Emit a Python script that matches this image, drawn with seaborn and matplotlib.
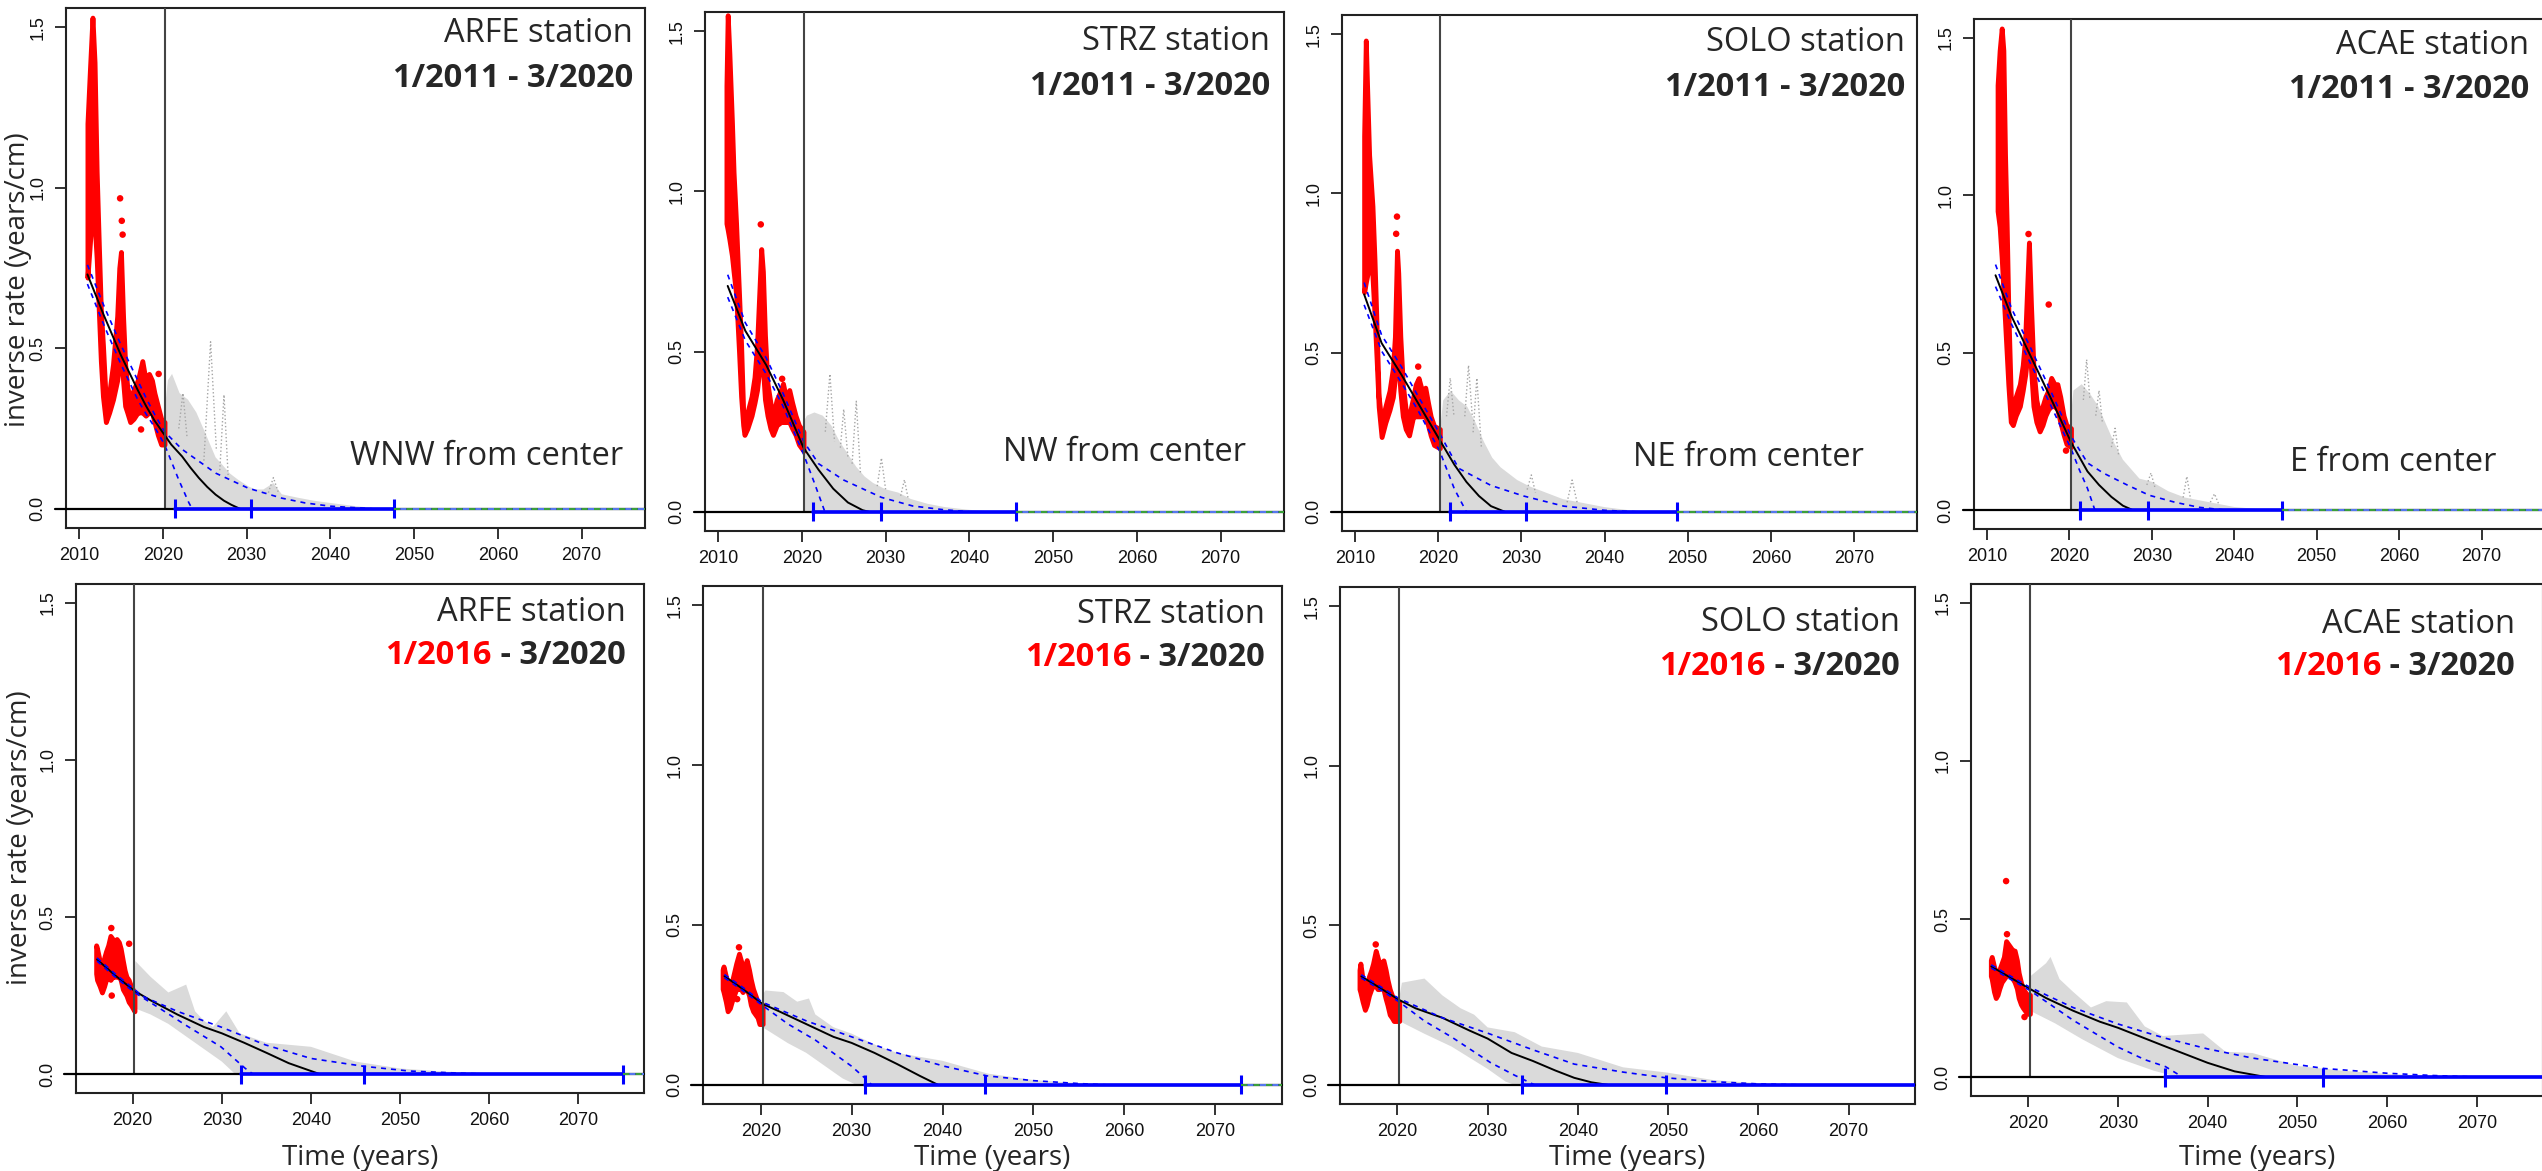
import matplotlib
matplotlib.use("Agg")
import matplotlib.pyplot as plt
import seaborn as sns

# ---------------- values ----------------
stations = ["ARFE", "STRZ", "SOLO", "ACAE"]
directions = ["WNW", "NW", "NE", "E"]
forecast_start = 2020.2  # 3/2020

top_xticks = [2010, 2020, 2030, 2040, 2050, 2060, 2070]
bot_xticks = [2020, 2030, 2040, 2050, 2060, 2070]
yticks = [0.0, 0.5, 1.0, 1.5]
ytick_labels = ["0.0", "0.5", "1.0", "1.5"]

# ---- top row: fits on 1/2011 - 3/2020 ----
# ARFE
arfe_a_red_t = [2011.0, 2011.3, 2011.6, 2011.85, 2012.1, 2012.35, 2012.6, 2012.85, 2013.2, 2013.6,
                2014.05, 2014.55, 2014.8, 2015.0, 2015.25, 2015.5, 2015.75, 2016.1, 2016.5, 2017.0,
                2017.2, 2017.55, 2017.95, 2018.35, 2018.7, 2019.0, 2019.4, 2019.8, 2020.2]
arfe_a_red_lo = [0.72, 0.83, 0.94, 0.89, 0.78, 0.62, 0.46, 0.35, 0.27, 0.30,
                 0.34, 0.40, 0.45, 0.50, 0.40, 0.32, 0.30, 0.27, 0.28, 0.30,
                 0.30, 0.30, 0.29, 0.30, 0.30, 0.27, 0.23, 0.20, 0.20]
arfe_a_red_hi = [1.20, 1.37, 1.53, 1.39, 1.05, 0.83, 0.62, 0.51, 0.33, 0.36,
                 0.45, 0.60, 0.75, 0.80, 0.60, 0.45, 0.38, 0.34, 0.37, 0.40,
                 0.42, 0.46, 0.40, 0.42, 0.40, 0.36, 0.32, 0.28, 0.27]
arfe_a_out_t = [2014.9, 2015.1, 2015.2, 2017.4, 2019.5]
arfe_a_out_v = [0.967, 0.897, 0.854, 0.247, 0.42]
arfe_a_blk_t = [2011.0, 2013.0, 2015.0, 2017.0, 2018.0, 2019.0, 2020.2, 2021.0, 2022.3, 2023.3,
                2024.3, 2025.3, 2026.3, 2027.3, 2028.2, 2029.2]
arfe_a_blk_v = [0.73, 0.60, 0.478, 0.37, 0.32, 0.275, 0.23, 0.20, 0.163, 0.128,
                0.096, 0.068, 0.044, 0.025, 0.012, 0.0]
arfe_a_bhi_t = [2011.0, 2013.0, 2015.0, 2017.0, 2018.0, 2019.0, 2020.2, 2022.3, 2026.3, 2030.2,
                2034.2, 2037.0, 2040.0, 2045.0]
arfe_a_bhi_v = [0.76, 0.63, 0.51, 0.40, 0.345, 0.295, 0.24, 0.185, 0.111, 0.064,
                0.033, 0.018, 0.008, 0.0]
arfe_a_blo_t = [2011.0, 2013.0, 2015.0, 2017.0, 2018.0, 2019.0, 2020.2, 2020.7, 2021.9, 2023.1, 2023.5]
arfe_a_blo_v = [0.70, 0.57, 0.45, 0.34, 0.295, 0.255, 0.20, 0.168, 0.09, 0.019, 0.0]
arfe_a_gh_t = [2020.2, 2020.6, 2021.1, 2022.0, 2023.0, 2024.0, 2025.0, 2026.3, 2027.0, 2028.0,
               2029.0, 2030.2, 2031.0, 2032.0, 2033.2, 2034.2, 2036.0, 2038.0, 2040.0, 2043.0, 2046.0]
arfe_a_gh_v = [0.30, 0.40, 0.42, 0.36, 0.34, 0.30, 0.24, 0.16, 0.14, 0.11,
               0.09, 0.07, 0.06, 0.06, 0.08, 0.045, 0.035, 0.025, 0.018, 0.008, 0.0]
arfe_a_gl_t = [2020.2, 2046.0]
arfe_a_gl_v = [0.0, 0.0]
arfe_a_sp_t = [[2024.9, 2025.7, 2026.4], [2026.8, 2027.3, 2027.8], [2021.9, 2022.4, 2022.9], [2032.6, 2033.2, 2033.8]]
arfe_a_sp_v = [[0.15, 0.52, 0.18], [0.12, 0.355, 0.10], [0.25, 0.36, 0.22], [0.05, 0.097, 0.05]]
arfe_a_iv = [2021.5, 2030.5, 2047.6]

# STRZ
strz_a_red_t = [2011.0, 2011.15, 2011.35, 2011.65, 2011.85, 2012.15, 2012.5, 2012.75, 2013.0, 2013.15,
                2013.5, 2014.0, 2014.35, 2014.65, 2014.95, 2015.15, 2015.35, 2015.6, 2015.9, 2016.25,
                2016.55, 2017.0, 2017.5, 2017.75, 2018.15, 2018.5, 2018.85, 2019.25, 2019.65, 2020.2]
strz_a_red_lo = [0.90, 0.88, 0.85, 0.80, 0.75, 0.68, 0.50, 0.36, 0.27, 0.24,
                 0.26, 0.30, 0.34, 0.38, 0.45, 0.50, 0.45, 0.35, 0.30, 0.26,
                 0.24, 0.27, 0.28, 0.28, 0.28, 0.28, 0.26, 0.24, 0.21, 0.19]
strz_a_red_hi = [1.33, 1.55, 1.43, 1.22, 1.06, 0.90, 0.68, 0.52, 0.31, 0.28,
                 0.31, 0.36, 0.42, 0.52, 0.70, 0.82, 0.75, 0.55, 0.40, 0.34,
                 0.30, 0.35, 0.38, 0.40, 0.35, 0.38, 0.34, 0.30, 0.27, 0.25]
strz_a_out_t = [2015.1, 2017.65]
strz_a_out_v = [0.897, 0.415]
strz_a_blk_t = [2011.15, 2013.25, 2015.75, 2017.75, 2020.2, 2022.0, 2023.75, 2025.5, 2027.25, 2028.0]
strz_a_blk_v = [0.705, 0.565, 0.458, 0.35, 0.20, 0.131, 0.072, 0.029, 0.005, 0.0]
strz_a_bhi_t = [2011.15, 2013.25, 2015.75, 2017.75, 2020.2, 2022.0, 2025.0, 2029.5, 2033.25, 2036.75, 2040.0]
strz_a_bhi_v = [0.74, 0.59, 0.48, 0.37, 0.22, 0.15, 0.099, 0.045, 0.018, 0.007, 0.0]
strz_a_blo_t = [2011.15, 2013.25, 2015.75, 2017.75, 2020.2, 2021.5, 2022.75]
strz_a_blo_v = [0.67, 0.535, 0.43, 0.33, 0.18, 0.09, 0.0]
strz_a_gh_t = [2020.2, 2020.6, 2021.5, 2022.5, 2023.5, 2024.5, 2025.5, 2026.5, 2027.5, 2028.5,
               2030.0, 2031.5, 2033.0, 2035.0, 2037.0, 2040.0, 2043.0]
strz_a_gh_v = [0.28, 0.30, 0.31, 0.30, 0.27, 0.22, 0.18, 0.14, 0.11, 0.09,
               0.07, 0.06, 0.04, 0.025, 0.015, 0.006, 0.0]
strz_a_gl_t = [2020.2, 2043.0]
strz_a_gl_v = [0.0, 0.0]
strz_a_sp_t = [[2022.8, 2023.35, 2023.9], [2024.6, 2025.0, 2025.5], [2026.0, 2026.5, 2027.0],
               [2029.0, 2029.5, 2030.0], [2031.8, 2032.25, 2032.7]]
strz_a_sp_v = [[0.25, 0.43, 0.22], [0.20, 0.32, 0.17], [0.15, 0.345, 0.12], [0.08, 0.168, 0.07], [0.05, 0.10, 0.04]]
strz_a_iv = [2021.3, 2029.4, 2045.6]

# SOLO
solo_a_red_t = [2011.1, 2011.3, 2011.45, 2011.7, 2012.1, 2012.35, 2012.6, 2012.85, 2013.2, 2013.65,
                2014.15, 2014.55, 2014.8, 2015.05, 2015.2, 2015.45, 2015.75, 2016.1, 2016.5, 2017.0,
                2017.3, 2017.65, 2018.05, 2018.45, 2018.8, 2019.1, 2019.5, 2020.2]
solo_a_red_lo = [0.69, 0.72, 0.74, 0.80, 0.74, 0.62, 0.48, 0.33, 0.235, 0.28,
                 0.32, 0.36, 0.42, 0.50, 0.48, 0.38, 0.30, 0.26, 0.24, 0.30,
                 0.30, 0.30, 0.30, 0.30, 0.27, 0.24, 0.21, 0.20]
solo_a_red_hi = [1.18, 1.48, 1.34, 1.12, 0.96, 0.79, 0.58, 0.36, 0.28, 0.33,
                 0.38, 0.45, 0.55, 0.82, 0.75, 0.55, 0.40, 0.32, 0.30, 0.36,
                 0.40, 0.42, 0.38, 0.39, 0.34, 0.30, 0.27, 0.26]
solo_a_out_t = [2015.05, 2014.95, 2017.6]
solo_a_out_v = [0.927, 0.873, 0.456]
solo_a_blk_t = [2011.1, 2013.2, 2015.6, 2017.55, 2020.2, 2021.95, 2023.4, 2024.9, 2026.35, 2028.05]
solo_a_blk_v = [0.683, 0.53, 0.43, 0.343, 0.225, 0.148, 0.094, 0.05, 0.018, 0.0]
solo_a_bhi_t = [2011.1, 2013.2, 2015.6, 2017.55, 2020.2, 2022.45, 2026.35, 2030.25, 2035.1, 2040.0, 2044.0]
solo_a_bhi_v = [0.72, 0.555, 0.455, 0.365, 0.245, 0.137, 0.083, 0.05, 0.018, 0.005, 0.0]
solo_a_blo_t = [2011.1, 2013.2, 2015.6, 2017.55, 2020.2, 2021.95, 2023.4]
solo_a_blo_v = [0.65, 0.505, 0.405, 0.32, 0.19, 0.072, 0.0]
solo_a_gh_t = [2020.2, 2020.6, 2021.5, 2022.5, 2023.5, 2024.5, 2025.5, 2026.5, 2027.5, 2028.5,
               2029.5, 2031.0, 2033.0, 2035.0, 2037.0, 2040.0, 2043.0, 2046.0]
solo_a_gh_v = [0.25, 0.35, 0.38, 0.35, 0.33, 0.28, 0.22, 0.17, 0.14, 0.12,
               0.10, 0.08, 0.06, 0.04, 0.03, 0.015, 0.005, 0.0]
solo_a_gl_t = [2020.2, 2046.0]
solo_a_gl_v = [0.0, 0.0]
solo_a_sp_t = [[2021.0, 2021.45, 2021.9], [2023.2, 2023.65, 2024.1], [2024.2, 2024.65, 2025.2],
               [2030.7, 2031.2, 2031.7], [2035.5, 2036.1, 2036.7]]
solo_a_sp_v = [[0.30, 0.42, 0.30], [0.30, 0.46, 0.30], [0.25, 0.42, 0.20], [0.07, 0.116, 0.06], [0.03, 0.10, 0.03]]
solo_a_iv = [2021.4, 2030.6, 2048.7]

# ACAE
acae_a_red_t = [2011.3, 2011.55, 2011.8, 2012.0, 2012.2, 2012.4, 2012.6, 2012.9, 2013.15, 2013.5,
                2014.0, 2014.35, 2014.65, 2014.95, 2015.1, 2015.35, 2015.65, 2016.0, 2016.4, 2016.75,
                2017.1, 2017.45, 2017.8, 2018.2, 2018.55, 2018.9, 2019.3, 2019.65, 2020.2]
acae_a_red_lo = [0.95, 0.90, 0.80, 0.70, 0.60, 0.50, 0.40, 0.28, 0.27, 0.30,
                 0.33, 0.38, 0.43, 0.50, 0.55, 0.45, 0.33, 0.28, 0.25, 0.27,
                 0.30, 0.32, 0.33, 0.33, 0.32, 0.28, 0.24, 0.21, 0.20]
acae_a_red_hi = [1.35, 1.46, 1.53, 1.46, 1.13, 0.91, 0.64, 0.36, 0.31, 0.36,
                 0.40, 0.46, 0.55, 0.75, 0.85, 0.65, 0.45, 0.35, 0.30, 0.33,
                 0.36, 0.38, 0.42, 0.40, 0.40, 0.36, 0.30, 0.27, 0.26]
acae_a_out_t = [2015.05, 2017.5, 2019.6]
acae_a_out_v = [0.877, 0.653, 0.189]
acae_a_blk_t = [2011.05, 2013.0, 2015.4, 2017.8, 2020.2, 2022.2, 2023.6, 2025.1, 2026.5, 2027.7]
acae_a_blk_v = [0.746, 0.615, 0.484, 0.353, 0.216, 0.123, 0.08, 0.042, 0.014, 0.0]
acae_a_bhi_t = [2011.05, 2013.0, 2015.4, 2017.8, 2020.2, 2022.2, 2024.1, 2027.0, 2029.7, 2032.8, 2035.7, 2039.0]
acae_a_bhi_v = [0.78, 0.64, 0.51, 0.375, 0.235, 0.15, 0.118, 0.08, 0.047, 0.025, 0.009, 0.0]
acae_a_blo_t = [2011.05, 2013.0, 2015.4, 2017.8, 2020.2, 2021.2, 2022.2, 2023.1]
acae_a_blo_v = [0.71, 0.59, 0.46, 0.33, 0.195, 0.129, 0.069, 0.0]
acae_a_gh_t = [2020.2, 2020.5, 2021.5, 2022.5, 2023.5, 2024.5, 2025.5, 2026.5, 2027.5, 2028.5,
               2030.0, 2032.0, 2034.0, 2036.0, 2038.0, 2040.0, 2043.0, 2045.0]
acae_a_gh_v = [0.30, 0.38, 0.40, 0.37, 0.33, 0.27, 0.21, 0.16, 0.13, 0.10,
               0.09, 0.06, 0.04, 0.03, 0.02, 0.01, 0.003, 0.0]
acae_a_gl_t = [2020.2, 2045.0]
acae_a_gl_v = [0.0, 0.0]
acae_a_sp_t = [[2021.7, 2022.1, 2022.5], [2023.2, 2023.6, 2024.0], [2025.1, 2025.55, 2026.0],
               [2029.4, 2029.9, 2030.4], [2033.8, 2034.25, 2034.7], [2037.1, 2037.6, 2038.1]]
acae_a_sp_v = [[0.35, 0.478, 0.35], [0.30, 0.38, 0.28], [0.20, 0.26, 0.17],
               [0.08, 0.118, 0.07], [0.04, 0.107, 0.035], [0.025, 0.052, 0.02]]
acae_a_iv = [2021.3, 2029.6, 2045.8]

# ---- bottom row: fits on 1/2016 - 3/2020 ----
# ARFE
arfe_b_red_t = [2015.9, 2016.0, 2016.3, 2016.55, 2016.8, 2017.0, 2017.25, 2017.5, 2017.75, 2018.0,
                2018.2, 2018.45, 2018.65, 2018.9, 2019.1, 2019.3, 2019.55, 2019.8, 2020.0, 2020.2]
arfe_b_red_lo = [0.32, 0.30, 0.28, 0.26, 0.28, 0.30, 0.31, 0.30, 0.31, 0.31,
                 0.31, 0.31, 0.30, 0.27, 0.26, 0.25, 0.23, 0.22, 0.21, 0.20]
arfe_b_red_hi = [0.41, 0.40, 0.36, 0.34, 0.37, 0.39, 0.41, 0.44, 0.43, 0.42,
                 0.43, 0.42, 0.40, 0.36, 0.33, 0.31, 0.30, 0.28, 0.27, 0.26]
arfe_b_out_t = [2017.6, 2017.65, 2019.6]
arfe_b_out_v = [0.465, 0.25, 0.415]
arfe_b_blk_t = [2016.0, 2018.0, 2020.2, 2022.0, 2025.0, 2028.0, 2030.0, 2032.5, 2035.0, 2037.5, 2040.0, 2041.0]
arfe_b_blk_v = [0.365, 0.315, 0.265, 0.235, 0.19, 0.15, 0.13, 0.10, 0.068, 0.035, 0.01, 0.0]
arfe_b_bhi_t = [2016.0, 2018.0, 2020.2, 2021.1, 2025.0, 2030.0, 2034.9, 2040.0, 2045.9, 2051.0, 2056.0, 2060.0]
arfe_b_bhi_v = [0.37, 0.32, 0.27, 0.248, 0.20, 0.149, 0.093, 0.05, 0.025, 0.01, 0.004, 0.0]
arfe_b_blo_t = [2016.0, 2018.0, 2020.2, 2023.0, 2026.0, 2029.9, 2032.6, 2033.5]
arfe_b_blo_v = [0.36, 0.31, 0.26, 0.21, 0.155, 0.087, 0.019, 0.0]
arfe_b_gh_t = [2020.2, 2020.3, 2022.0, 2024.0, 2026.0, 2027.0, 2028.0, 2029.0, 2030.5, 2032.0,
               2035.0, 2040.0, 2045.0, 2050.0, 2055.0, 2060.0, 2063.0]
arfe_b_gh_v = [0.30, 0.36, 0.31, 0.26, 0.285, 0.20, 0.17, 0.15, 0.20, 0.13,
               0.10, 0.087, 0.04, 0.018, 0.008, 0.003, 0.0]
arfe_b_gl_t = [2020.2, 2022.0, 2024.0, 2026.0, 2028.0, 2030.0, 2031.5]
arfe_b_gl_v = [0.21, 0.19, 0.16, 0.12, 0.08, 0.04, 0.0]
arfe_b_iv = [2032.1, 2045.9, 2075.0]

# STRZ
strz_b_red_t = [2015.8, 2015.9, 2016.15, 2016.35, 2016.6, 2016.8, 2017.05, 2017.3, 2017.6, 2017.8,
                2018.0, 2018.25, 2018.45, 2018.7, 2018.9, 2019.15, 2019.4, 2019.65, 2019.85, 2020.2]
strz_b_red_lo = [0.30, 0.29, 0.26, 0.23, 0.24, 0.26, 0.28, 0.30, 0.30, 0.30,
                 0.29, 0.30, 0.30, 0.28, 0.25, 0.23, 0.22, 0.21, 0.19, 0.19]
strz_b_red_hi = [0.36, 0.37, 0.34, 0.32, 0.31, 0.32, 0.35, 0.38, 0.41, 0.39,
                 0.37, 0.37, 0.39, 0.36, 0.33, 0.30, 0.28, 0.26, 0.25, 0.25]
strz_b_out_t = [2017.6, 2017.4]
strz_b_out_v = [0.43, 0.268]
strz_b_blk_t = [2016.0, 2018.0, 2020.2, 2022.0, 2025.0, 2028.0, 2030.0, 2032.5, 2035.0, 2037.5, 2039.5]
strz_b_blk_v = [0.34, 0.30, 0.253, 0.23, 0.19, 0.15, 0.131, 0.10, 0.065, 0.028, 0.0]
strz_b_bhi_t = [2016.0, 2018.0, 2020.2, 2025.0, 2030.0, 2035.0, 2040.2, 2044.9, 2050.0, 2055.0, 2058.0]
strz_b_bhi_v = [0.345, 0.305, 0.258, 0.20, 0.15, 0.10, 0.058, 0.028, 0.013, 0.004, 0.0]
strz_b_blo_t = [2016.0, 2018.0, 2020.2, 2023.0, 2026.0, 2030.0, 2031.5, 2032.2]
strz_b_blo_v = [0.335, 0.295, 0.248, 0.19, 0.14, 0.058, 0.02, 0.0]
strz_b_gh_t = [2020.2, 2020.5, 2022.5, 2024.0, 2025.3, 2026.0, 2028.0, 2030.0, 2033.0, 2035.0,
               2040.0, 2045.0, 2050.0, 2055.0, 2060.0]
strz_b_gh_v = [0.28, 0.295, 0.29, 0.26, 0.27, 0.22, 0.18, 0.16, 0.12, 0.10,
               0.075, 0.035, 0.015, 0.005, 0.0]
strz_b_gl_t = [2020.2, 2023.0, 2025.0, 2027.0, 2029.0, 2030.5]
strz_b_gl_v = [0.18, 0.13, 0.10, 0.06, 0.02, 0.0]
strz_b_iv = [2031.5, 2044.7, 2072.9]

# SOLO
solo_b_red_t = [2015.8, 2015.9, 2016.15, 2016.4, 2016.6, 2016.85, 2017.1, 2017.3, 2017.6, 2017.8,
                2018.0, 2018.25, 2018.45, 2018.7, 2018.9, 2019.15, 2019.4, 2019.6, 2019.85, 2020.2]
solo_b_red_lo = [0.30, 0.29, 0.26, 0.235, 0.25, 0.28, 0.30, 0.31, 0.31, 0.30,
                 0.30, 0.31, 0.30, 0.27, 0.25, 0.22, 0.21, 0.20, 0.20, 0.20]
solo_b_red_hi = [0.36, 0.38, 0.33, 0.30, 0.31, 0.34, 0.36, 0.38, 0.42, 0.40,
                 0.38, 0.38, 0.39, 0.36, 0.33, 0.30, 0.28, 0.27, 0.26, 0.26]
solo_b_out_t = [2017.6]
solo_b_out_v = [0.44]
solo_b_blk_t = [2016.0, 2018.0, 2020.2, 2022.0, 2025.0, 2028.0, 2030.0, 2032.65, 2035.0, 2037.5,
                2039.6, 2041.5, 2043.3]
solo_b_blk_v = [0.34, 0.305, 0.266, 0.24, 0.21, 0.17, 0.145, 0.10, 0.075, 0.045,
                0.022, 0.008, 0.0]
solo_b_bhi_t = [2016.0, 2018.0, 2020.2, 2025.0, 2030.0, 2035.0, 2039.6, 2045.0, 2049.8, 2055.0, 2060.0, 2065.0]
solo_b_bhi_v = [0.345, 0.31, 0.27, 0.21, 0.162, 0.11, 0.065, 0.04, 0.022, 0.01, 0.003, 0.0]
solo_b_blo_t = [2016.0, 2018.0, 2020.2, 2023.0, 2026.0, 2030.3, 2033.0, 2035.2]
solo_b_blo_v = [0.335, 0.30, 0.26, 0.20, 0.15, 0.07, 0.03, 0.0]
solo_b_gh_t = [2020.2, 2020.5, 2023.0, 2025.0, 2027.0, 2028.5, 2030.0, 2033.0, 2036.0, 2040.0,
               2045.0, 2050.0, 2055.0, 2060.0, 2065.0]
solo_b_gh_v = [0.27, 0.32, 0.333, 0.28, 0.24, 0.22, 0.18, 0.165, 0.12, 0.10,
               0.055, 0.038, 0.015, 0.005, 0.0]
solo_b_gl_t = [2020.2, 2023.0, 2026.0, 2028.0, 2030.0, 2032.0, 2033.0]
solo_b_gl_v = [0.20, 0.16, 0.12, 0.085, 0.05, 0.01, 0.0]
solo_b_iv = [2033.8, 2049.8, 2082.0]

# ACAE
acae_b_red_t = [2015.85, 2015.95, 2016.2, 2016.4, 2016.6, 2016.8, 2017.05, 2017.3, 2017.55, 2017.8,
                2018.05, 2018.3, 2018.5, 2018.75, 2018.95, 2019.2, 2019.4, 2019.65, 2019.9, 2020.2]
acae_b_red_lo = [0.32, 0.31, 0.27, 0.25, 0.26, 0.28, 0.30, 0.31, 0.32, 0.33,
                 0.32, 0.31, 0.30, 0.28, 0.25, 0.23, 0.22, 0.21, 0.20, 0.20]
acae_b_red_hi = [0.37, 0.38, 0.35, 0.33, 0.33, 0.34, 0.36, 0.38, 0.43, 0.42,
                 0.41, 0.40, 0.40, 0.37, 0.33, 0.30, 0.28, 0.27, 0.26, 0.26]
acae_b_out_t = [2017.55, 2017.65, 2019.6]
acae_b_out_v = [0.62, 0.452, 0.19]
acae_b_blk_t = [2015.9, 2018.0, 2020.2, 2022.0, 2025.0, 2028.0, 2030.0, 2035.0, 2040.0, 2043.0, 2046.5]
acae_b_blk_v = [0.35, 0.315, 0.279, 0.25, 0.21, 0.175, 0.156, 0.10, 0.045, 0.018, 0.0]
acae_b_bhi_t = [2015.9, 2018.0, 2020.2, 2025.0, 2030.0, 2035.0, 2040.0, 2045.0, 2053.0, 2060.0, 2065.0, 2070.0]
acae_b_bhi_v = [0.355, 0.32, 0.284, 0.22, 0.168, 0.125, 0.089, 0.06, 0.027, 0.012, 0.005, 0.0]
acae_b_blo_t = [2015.9, 2018.0, 2020.2, 2025.0, 2030.0, 2033.0, 2035.3, 2037.2]
acae_b_blo_v = [0.345, 0.31, 0.274, 0.18, 0.095, 0.055, 0.033, 0.0]
acae_b_gh_t = [2020.2, 2020.3, 2022.0, 2022.5, 2023.5, 2025.0, 2027.0, 2028.7, 2031.0, 2033.0,
               2035.0, 2039.5, 2042.0, 2045.0, 2050.0, 2055.0, 2060.0, 2065.0, 2070.0]
acae_b_gh_v = [0.30, 0.32, 0.36, 0.38, 0.31, 0.27, 0.22, 0.24, 0.236, 0.16,
               0.13, 0.138, 0.08, 0.076, 0.035, 0.02, 0.01, 0.003, 0.0]
acae_b_gl_t = [2020.2, 2023.0, 2026.0, 2028.0, 2030.0, 2032.0, 2034.0, 2036.0, 2037.0]
acae_b_gl_v = [0.21, 0.17, 0.12, 0.09, 0.06, 0.04, 0.02, 0.005, 0.0]
acae_b_iv = [2035.2, 2052.9, 2082.0]

# ---------------- layout (pixel boxes of each plot region) ----------------
W, H = 2542, 1171
top_boxes = [(66, 8, 645, 528), (705, 12, 1284, 531), (1342, 15, 1917, 531), (1974, 19, 2544, 529)]
bot_boxes = [(76, 584, 644, 1093), (703, 586, 1282, 1104), (1340, 587, 1915, 1104), (1971, 584, 2543, 1096)]
# (title right x, line 1 y, line 2 y, direction right x, direction y) in axes fractions
top_txt = [(0.979, 0.950, 0.865, 0.962, 0.137), (0.976, 0.944, 0.857, 0.934, 0.152),
           (0.979, 0.946, 0.859, 0.908, 0.143), (0.974, 0.949, 0.861, 0.916, 0.131)]
bot_txt = [(0.967, 0.944, 0.860), (0.971, 0.945, 0.862), (0.973, 0.932, 0.847), (0.951, 0.921, 0.838)]

def panel(prefix, sp=True):
    g = globals()
    d = {k: g[f"{prefix}_{k}"] for k in ["red_t", "red_lo", "red_hi", "out_t", "out_v", "blk_t", "blk_v",
                                         "bhi_t", "bhi_v", "blo_t", "blo_v", "gh_t", "gh_v", "gl_t", "gl_v", "iv"]}
    d["sp_t"] = g[f"{prefix}_sp_t"] if sp else []
    d["sp_v"] = g[f"{prefix}_sp_v"] if sp else []
    return d

top_panels = [panel(f"{s.lower()}_a") for s in stations]
bot_panels = [panel(f"{s.lower()}_b", sp=False) for s in stations]

# ---------------- drawing ----------------
sns.set_style("ticks")
plt.rcParams["font.family"] = ["Liberation Sans", "DejaVu Sans"]
TF = "Open Sans"

fig = plt.figure(figsize=(W / 100, H / 100), dpi=100)
renderer = fig.canvas.get_renderer()


def draw(box, d, xlim, xticks):
    l, t, r, b = box
    ax = fig.add_axes([l / W, 1 - b / H, (r - l) / W, (b - t) / H])
    ax.set_xlim(xlim)
    ax.set_ylim(-0.06, 1.56)

    # forecast cloud
    ax.fill(d["gh_t"] + d["gl_t"][::-1], d["gh_v"] + d["gl_v"][::-1], color="#dadada", lw=0, zorder=1)
    for sx, sy in zip(d["sp_t"], d["sp_v"]):
        sns.lineplot(x=sx, y=sy, ax=ax, color="#a5a5a5", lw=1, linestyle=":",
                     estimator=None, sort=False, zorder=2)

    # observed inverse rate
    ax.fill_between(d["red_t"], d["red_lo"], d["red_hi"], color="red", lw=3.5, zorder=3)
    sns.scatterplot(x=d["out_t"], y=d["out_v"], ax=ax, color="red", s=22, edgecolor="none", zorder=4)

    # fit + bounds
    sns.lineplot(x=d["blk_t"], y=d["blk_v"], ax=ax, color="black", lw=1.4,
                 estimator=None, sort=False, zorder=5)
    for k in ["bhi", "blo"]:
        sns.lineplot(x=d[k + "_t"], y=d[k + "_v"], ax=ax, color="blue", lw=1.2, linestyle=(0, (3, 3)),
                     estimator=None, sort=False, zorder=5)

    # reference lines
    ax.plot([forecast_start, forecast_start], [0, 1.6], color="#444444", lw=1.5, zorder=6)
    ax.plot([xlim[0] - 1.3, xlim[1]], [0, 0], color="black", lw=1.6, clip_on=False, zorder=6)

    # failure-time interval
    lo, mid, hi = d["iv"]
    ax.plot([lo, min(hi, xlim[1])], [0, 0], color="blue", lw=2.6, zorder=7)
    ax.vlines([lo, mid, hi], -0.03, 0.03, color="blue", lw=2.2, zorder=7)
    if hi < xlim[1]:
        ax.plot([hi, xlim[1]], [0, 0], color="#3aa03a", lw=1.5, linestyle=(0, (3, 3)), zorder=7)
        ax.plot([hi, xlim[1]], [0, 0], color="#5577ee", lw=1.5, linestyle=(3, (3, 3)), zorder=7)

    for s in ax.spines.values():
        s.set_visible(True)
        s.set_color("#222222")
        s.set_linewidth(1.5)
    ax.set_xticks(xticks)
    ax.set_xticklabels([str(v) for v in xticks])
    ax.set_yticks(yticks)
    ax.set_yticklabels(ytick_labels)
    ax.tick_params(length=8, width=1.3, color="#222222", labelsize=13, labelcolor="#111111")
    ax.tick_params(axis="x", pad=6)
    ax.tick_params(axis="y", pad=6, labelrotation=90)
    for lab in ax.get_yticklabels():
        lab.set_va("center")
    ax.set_xlabel("")
    ax.set_ylabel("")
    return ax


for i, (name, dirn) in enumerate(zip(stations, directions)):
    ax = draw(top_boxes[i], top_panels[i], (2008.44, 2077.56), top_xticks)
    tx, y1, y2, dx, dy = top_txt[i]
    ax.text(tx, y1, f"{name} station", transform=ax.transAxes, ha="right", va="center",
            fontsize=23.5, family=TF)
    ax.text(tx, y2, "1/2011 - 3/2020", transform=ax.transAxes, ha="right", va="center",
            fontsize=23.5, family=TF, fontweight="bold")
    ax.text(dx, dy, f"{dirn} from center", transform=ax.transAxes, ha="right", va="center",
            fontsize=23.5, family=TF)

    ax = draw(bot_boxes[i], bot_panels[i], (2013.64, 2077.36), bot_xticks)
    tx, y1, y2 = bot_txt[i]
    ax.text(tx, y1, f"{name} station", transform=ax.transAxes, ha="right", va="center",
            fontsize=23.5, family=TF)
    t2 = ax.text(tx, y2, " - 3/2020", transform=ax.transAxes, ha="right", va="center",
                 fontsize=23.5, family=TF, fontweight="bold")
    bb = t2.get_window_extent(renderer)
    x0 = ax.transAxes.inverted().transform((bb.x0, bb.y0))[0]
    ax.text(x0, y2, "1/2016", transform=ax.transAxes, ha="right", va="center",
            fontsize=23.5, family=TF, fontweight="bold", color="red")
    l, t, r, b = bot_boxes[i]
    fig.text((l + r) / 2 / W, 1 - 1158 / H, "Time (years)", ha="center", va="center",
             fontsize=20, family=TF)

fig.text(18 / W, 1 - 280 / H, "inverse rate (years/cm)", rotation=90, ha="center", va="center",
         fontsize=20, family=TF)
fig.text(20 / W, 1 - 838 / H, "inverse rate (years/cm)", rotation=90, ha="center", va="center",
         fontsize=20, family=TF)

fig.savefig("out.png", dpi=100)
